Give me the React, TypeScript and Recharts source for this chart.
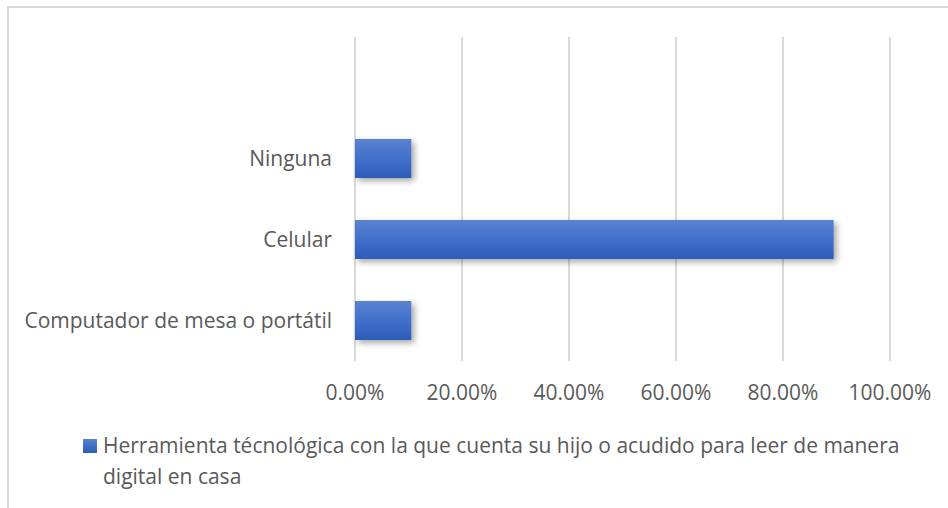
import React from 'react';
import { BarChart, Bar, XAxis, YAxis, CartesianGrid, Legend } from 'recharts';

const categories = ['', 'Ninguna', 'Celular', 'Computador de mesa o portátil'];
const values: (number | null)[] = [null, 10.53, 89.47, 10.53];
const xTicks = [0, 20, 40, 60, 80, 100];
const seriesName =
  'Herramienta técnológica con la que cuenta su hijo o acudido para leer de manera digital en casa';

const data = categories.map((c, i) => ({ category: c, value: values[i] }));

const FONT = '"Open Sans", sans-serif';
const TEXT = '#595959';

const renderLegend = () => (
  <div style={{ display: 'flex', alignItems: 'flex-start', fontFamily: FONT, fontSize: 21, color: TEXT, lineHeight: '31px' }}>
    <span
      style={{
        display: 'inline-block',
        width: 14,
        height: 14,
        marginTop: 9,
        marginRight: 6,
        flexShrink: 0,
        background: 'linear-gradient(#5b82d0, #2d5cb8)',
      }}
    />
    <span style={{ width: 810 }}>{seriesName}</span>
  </div>
);

export default function App() {
  return (
    <div style={{ position: 'absolute', left: 0, top: 0, width: 948, height: 508, background: '#fff' }}>
      <div
        style={{
          position: 'absolute',
          left: 7,
          top: 6,
          width: 960,
          height: 520,
          borderTop: '2px solid #d9d9d9',
          borderLeft: '2px solid #d9d9d9',
        }}
      />
      <div style={{ position: 'absolute', left: 0, top: 0 }}>
        <BarChart
          width={948}
          height={508}
          data={data}
          layout="vertical"
          margin={{ top: 37, right: 58, left: 0, bottom: 0 }}
        >
          <defs>
            <linearGradient id="barGrad" x1="0" y1="0" x2="0" y2="1">
              <stop offset="0%" stopColor="#5b82d0" />
              <stop offset="50%" stopColor="#4170cc" />
              <stop offset="100%" stopColor="#2d5cb8" />
            </linearGradient>
            <filter id="barShadow" x="-10%" y="-30%" width="130%" height="180%">
              <feDropShadow dx="3" dy="3" stdDeviation="3" floodColor="#000" floodOpacity="0.35" />
            </filter>
          </defs>
          <CartesianGrid horizontal={false} stroke="#d9d9d9" strokeWidth={2} />
          <XAxis
            type="number"
            domain={[0, 100]}
            ticks={xTicks}
            tickFormatter={(v: number) => `${v.toFixed(2)}%`}
            axisLine={false}
            tickLine={false}
            tickSize={0}
            tickMargin={24}
            height={147}
            tick={{ fill: TEXT, fontSize: 21, fontFamily: FONT }}
            interval={0}
          />
          <YAxis
            type="category"
            dataKey="category"
            width={355}
            axisLine={false}
            tickLine={false}
            tickSize={0}
            tickMargin={23}
            tick={{ fill: TEXT, fontSize: 21, fontFamily: FONT }}
            interval={0}
          />
          <Legend
            layout="vertical"
            align="center"
            verticalAlign="middle"
            content={renderLegend}
            wrapperStyle={{ position: 'absolute', left: 83, top: 430, width: 850 }}
          />
          <Bar
            dataKey="value"
            name={seriesName}
            fill="url(#barGrad)"
            barSize={39}
            filter="url(#barShadow)"
            isAnimationActive={false}
          />
        </BarChart>
      </div>
    </div>
  );
}
